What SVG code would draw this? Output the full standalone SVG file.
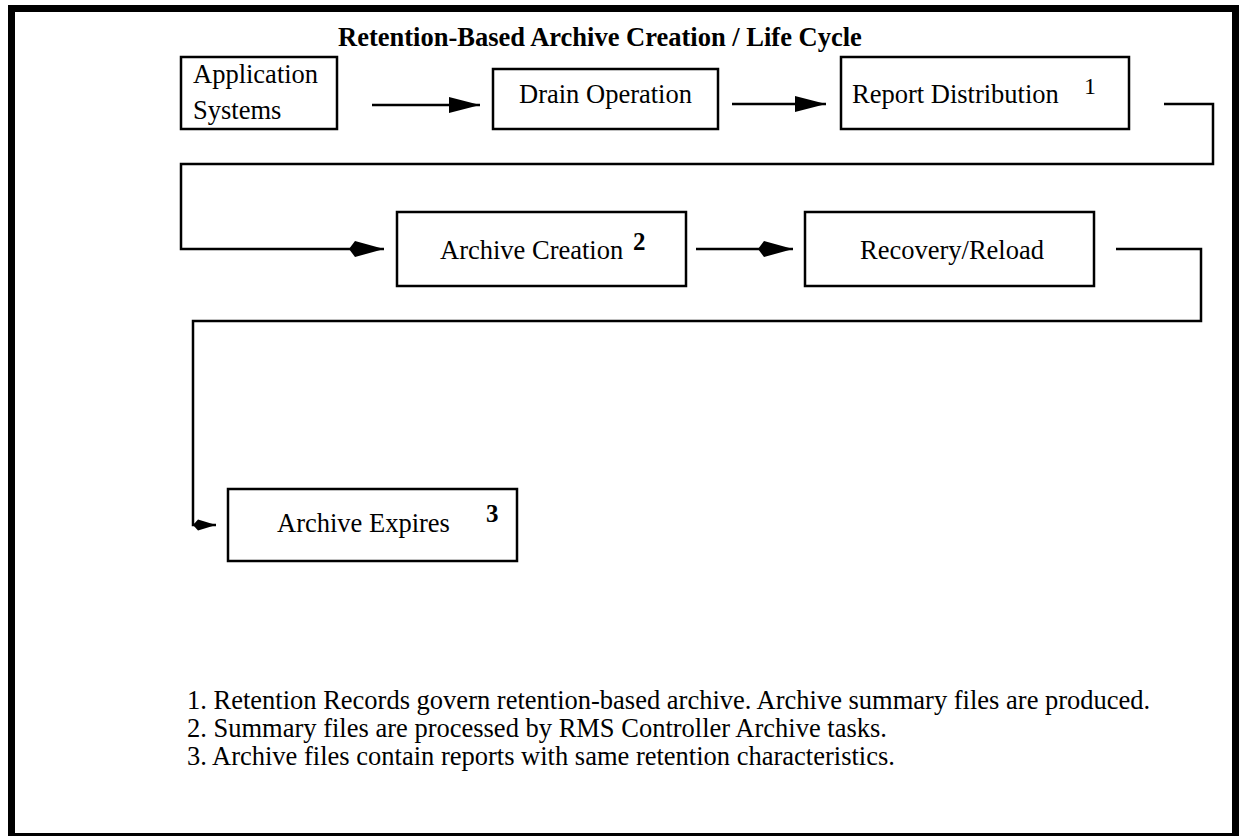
<svg xmlns="http://www.w3.org/2000/svg" width="1239" height="836" viewBox="0 0 1239 836">
<style>
.box{fill:#fff;stroke:#000;stroke-width:2.5}
.lbl{font-family:"Liberation Serif","Times New Roman",serif;font-size:26.5px;fill:#000}
.sup{font-family:"Liberation Serif","Times New Roman",serif;font-size:24px;fill:#000}
.supb{font-family:"Liberation Serif","Times New Roman",serif;font-size:25px;font-weight:bold;fill:#000}
.title{font-family:"Liberation Serif","Times New Roman",serif;font-size:26.5px;font-weight:bold;fill:#000}
.note{font-family:"Liberation Serif","Times New Roman",serif;font-size:26.5px;fill:#000}
.conn{fill:none;stroke:#000;stroke-width:2.5}
</style>
<defs>
<marker id="tri" markerUnits="userSpaceOnUse" markerWidth="32" markerHeight="18" refX="31" refY="9" orient="auto">
<path d="M0,1 L31,9 L0,17 z" fill="#000"/>
</marker>
<marker id="kite" markerUnits="userSpaceOnUse" markerWidth="36" markerHeight="20" refX="35" refY="10" orient="auto">
<path d="M0,10 L6,2 L35,10 L6,18 z" fill="#000"/>
</marker>
<marker id="kiteS" markerUnits="userSpaceOnUse" markerWidth="24" markerHeight="14" refX="23" refY="7" orient="auto">
<path d="M0,7 L5,1.5 L23,7 L5,12.5 z" fill="#000"/>
</marker>
</defs>
<rect x="0" y="0" width="1239" height="836" fill="#fff"/>
<rect x="11.5" y="8.5" width="1224" height="828" fill="none" stroke="#000" stroke-width="7"/>
<text class="title" x="338" y="46">Retention-Based Archive Creation / Life Cycle</text>

<g id="connectors">
<path class="conn" d="M372,105 H480" marker-end="url(#tri)"/>
<path class="conn" d="M732,104 H826" marker-end="url(#tri)"/>
<path class="conn" d="M1164,104 H1213 V164 H181 V249 H384" marker-end="url(#kite)"/>
<path class="conn" d="M696,249 H793" marker-end="url(#kite)"/>
<path class="conn" d="M1116,249 H1201 V321 H193 V525 H216" marker-end="url(#kiteS)"/>
</g>

<g id="app-systems">
<rect class="box" x="181" y="57" width="156" height="72"/>
<text class="lbl" x="193" y="83">Application</text>
<text class="lbl" x="193" y="119">Systems</text>
</g>
<g id="drain-operation">
<rect class="box" x="493" y="69" width="225" height="60"/>
<text class="lbl" x="605.5" y="103" text-anchor="middle">Drain Operation</text>
</g>
<g id="report-distribution">
<rect class="box" x="841" y="57" width="288" height="72"/>
<text class="lbl" x="852" y="103">Report Distribution</text>
<text class="sup" x="1084" y="94">1</text>
</g>
<g id="archive-creation">
<rect class="box" x="397" y="212" width="289" height="74"/>
<text class="lbl" x="440" y="259">Archive Creation</text>
<text class="supb" x="633" y="250">2</text>
</g>
<g id="recovery-reload">
<rect class="box" x="805" y="212" width="289" height="74"/>
<text class="lbl" x="952" y="259" text-anchor="middle">Recovery/Reload</text>
</g>
<g id="archive-expires">
<rect class="box" x="228" y="489" width="289" height="72"/>
<text class="lbl" x="277" y="532">Archive Expires</text>
<text class="supb" x="486" y="522">3</text>
</g>

<g id="notes">
<text class="note" x="187" y="709">1. Retention Records govern retention-based archive. Archive summary files are produced.</text>
<text class="note" x="187" y="737">2. Summary files are processed by RMS Controller Archive tasks.</text>
<text class="note" x="187" y="765">3. Archive files contain reports with same retention characteristics.</text>
</g>
</svg>
